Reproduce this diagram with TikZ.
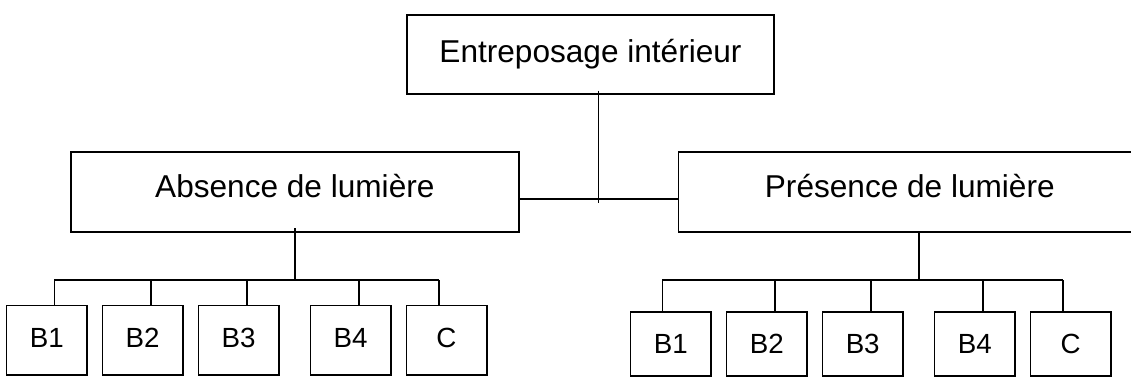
\documentclass[tikz,border=0pt]{standalone}
\usepackage{fontspec}
\setmainfont{Liberation Sans}
\begin{document}
\begin{tikzpicture}[x=0.75pt,y=-0.75pt,
  line width=1.2pt,
  bigbox/.style={draw, line width=1.2pt, inner sep=0pt, text depth=0pt, font=\fontsize{23.7}{28}\selectfont},
  smallbox/.style={draw, line width=1.2pt, inner sep=0pt, text depth=0pt, minimum width=80.4*0.75pt, font=\fontsize{20.8}{24}\selectfont},
  conn/.style={line width=1.2pt}]
\useasboundingbox (0,0) rectangle (1131,377);
% main boxes
\node[bigbox, text height=11.1pt, minimum width=367*0.75pt, minimum height=79.3*0.75pt] (top) at (590.5,54.65) {Entreposage intérieur};
\node[bigbox, text height=7.6pt, minimum width=448.3*0.75pt, minimum height=80*0.75pt] (abs) at (294.85,192.3) {Absence de lumière};
\node[bigbox, text height=8pt, minimum width=462.5*0.75pt, minimum height=80*0.75pt] (pres) at (909.8,192.3) {Présence de lumière};
% left small boxes
\foreach \n/\x/\t in {L1/46.85/B1, L2/142.65/B2, L3/238.5/B3, L4/350.7/B4, L5/446.5/C}
  \node[smallbox, text height=11pt, minimum height=69.3*0.75pt] (\n) at (\x,340.35) {\t};
% right small boxes
\foreach \n/\x/\t in {R1/670.85/B1, R2/766.85/B2, R3/862.7/B3, R4/974.7/B4, R5/1070.65/C}
  \node[smallbox, text height=13.5pt, minimum height=63.7*0.75pt] (\n) at (\x,344.15) {\t};
% top connector
\coordinate (tv1) at (598.5,90.7);
\coordinate (tv2) at (598.5,203.3);
\coordinate (th) at (598.5,199.3);
\draw[conn] (tv1) -- (tv2);
\draw[conn] (abs.east |- th) -- (pres.west |- th);
% left bus
\coordinate (lv) at (295,228.3);
\coordinate (lb) at (295,280.3);
\draw[conn] (lv) -- (lb);
\foreach \n/\x in {L1/54.3, L2/150.7, L3/246.7, L4/358.7, L5/438.7}
  \coordinate (d\n) at (\x,280.3);
\draw[conn] (dL1) -- (dL5);
\foreach \n in {L1,L2,L3,L4,L5}
  \draw[conn] (d\n) -- (d\n |- \n.north);
% right bus
\coordinate (rb) at (919,280.3);
\draw[conn] (pres.south -| rb) -- (rb);
\foreach \n/\x in {R1/662.3, R2/774.7, R3/870.7, R4/982.7, R5/1062.7}
  \coordinate (d\n) at (\x,280.3);
\draw[conn] (dR1) -- (dR5);
\foreach \n in {R1,R2,R3,R4,R5}
  \draw[conn] (d\n) -- (d\n |- \n.north);
\end{tikzpicture}
\end{document}
